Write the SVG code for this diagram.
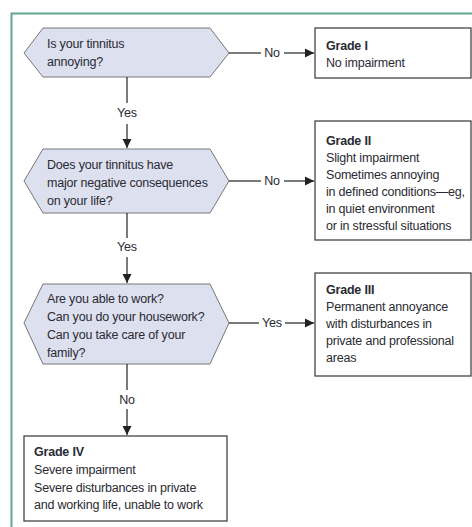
<svg xmlns="http://www.w3.org/2000/svg" width="472" height="527" viewBox="0 0 472 527">
<defs>
<style>
.t{font-family:"Liberation Sans",Arial,sans-serif;font-size:12.5px;fill:#2a2a33;letter-spacing:-0.2px}
.b{font-weight:bold}
.hex{fill:#dde0ef;stroke:#777;stroke-width:1}
.box{fill:#fff;stroke:#444;stroke-width:1.3}
.ln{stroke:#222;stroke-width:1.2;fill:none}
.lbl{font-family:"Liberation Sans",Arial,sans-serif;font-size:12.5px;fill:#2a2a33;text-anchor:middle;letter-spacing:-0.2px}
</style>
<marker id="ah" markerWidth="10" markerHeight="10" refX="9" refY="5" orient="auto" markerUnits="userSpaceOnUse">
<path d="M0,0.5 L9,5 L0,9.5 Z" fill="#222"/>
</marker>
</defs>
<rect width="472" height="527" fill="#fff"/>
<path d="M11.5,527 L11.5,13.5 L472,13.5" fill="none" stroke="#5fa88a" stroke-width="2"/>

<g id="q1">
<polygon class="hex" points="24,53 43,28 210,28 229,53 210,77 43,77"/>
<text class="t" x="47" y="48">Is your tinnitus</text>
<text class="t" x="47" y="66">annoying?</text>
</g>
<g id="g1">
<rect class="box" x="315" y="28" width="156" height="50"/>
<text class="t b" x="326" y="50">Grade I</text>
<text class="t" x="326" y="67">No impairment</text>
</g>
<g id="q2">
<polygon class="hex" points="24,181 43,149 210,149 229,181 210,213 43,213"/>
<text class="t" x="47" y="169">Does your tinnitus have</text>
<text class="t" x="47" y="187">major negative consequences</text>
<text class="t" x="47" y="205">on your life?</text>
</g>
<g id="g2">
<rect class="box" x="315" y="121" width="156" height="119"/>
<text class="t b" x="326" y="145">Grade II</text>
<text class="t" x="326" y="162">Slight impairment</text>
<text class="t" x="326" y="179">Sometimes annoying</text>
<text class="t" x="326" y="196">in defined conditions—eg,</text>
<text class="t" x="326" y="213">in quiet environment</text>
<text class="t" x="326" y="230">or in stressful situations</text>
</g>
<g id="q3">
<polygon class="hex" points="24,323 43,284 210,284 229,323 210,364 43,364"/>
<text class="t" x="47" y="303">Are you able to work?</text>
<text class="t" x="47" y="321">Can you do your housework?</text>
<text class="t" x="47" y="339">Can you take care of your</text>
<text class="t" x="47" y="357">family?</text>
</g>
<g id="g3">
<rect class="box" x="315" y="273" width="156" height="103"/>
<text class="t b" x="326" y="294">Grade III</text>
<text class="t" x="326" y="311">Permanent annoyance</text>
<text class="t" x="326" y="328">with disturbances in</text>
<text class="t" x="326" y="345">private and professional</text>
<text class="t" x="326" y="362">areas</text>
</g>
<g id="g4">
<rect class="box" x="24" y="436" width="203" height="85"/>
<text class="t b" x="34" y="456">Grade IV</text>
<text class="t" x="34" y="474">Severe impairment</text>
<text class="t" x="34" y="492">Severe disturbances in private</text>
<text class="t" x="34" y="509">and working life, unable to work</text>
</g>

<g id="connectors">
<line class="ln" x1="229" y1="53" x2="261" y2="53"/>
<line class="ln" x1="284" y1="53" x2="314" y2="53" marker-end="url(#ah)"/>
<text class="lbl" x="272" y="57">No</text>

<line class="ln" x1="127" y1="77" x2="127" y2="103"/>
<line class="ln" x1="127" y1="124" x2="127" y2="148" marker-end="url(#ah)"/>
<text class="lbl" x="127" y="117">Yes</text>

<line class="ln" x1="229" y1="181" x2="261" y2="181"/>
<line class="ln" x1="284" y1="181" x2="314" y2="181" marker-end="url(#ah)"/>
<text class="lbl" x="272" y="185">No</text>

<line class="ln" x1="127" y1="213" x2="127" y2="238"/>
<line class="ln" x1="127" y1="257" x2="127" y2="283" marker-end="url(#ah)"/>
<text class="lbl" x="127" y="251">Yes</text>

<line class="ln" x1="229" y1="323" x2="259" y2="323"/>
<line class="ln" x1="285" y1="323" x2="314" y2="323" marker-end="url(#ah)"/>
<text class="lbl" x="272" y="327">Yes</text>

<line class="ln" x1="127" y1="364" x2="127" y2="390"/>
<line class="ln" x1="127" y1="409" x2="127" y2="435" marker-end="url(#ah)"/>
<text class="lbl" x="127" y="404">No</text>
</g>
</svg>
